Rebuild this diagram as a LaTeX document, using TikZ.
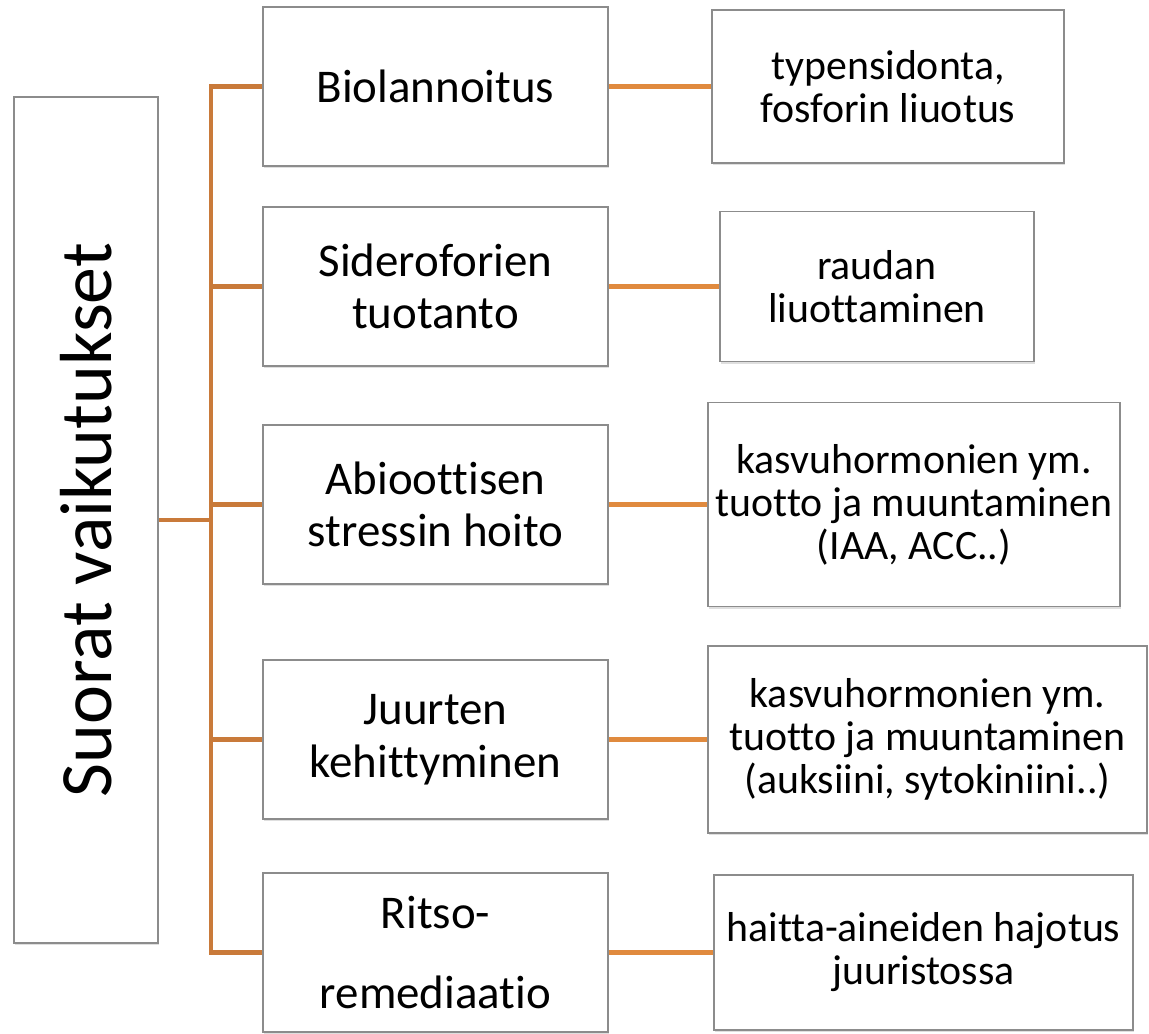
\documentclass[tikz,border=0pt]{standalone}
\usepackage{fontspec}
\setmainfont{Carlito}[Ligatures=NoCommon]
\usetikzlibrary{positioning, shadows}

\definecolor{trunkc}{HTML}{C97A3A}
\definecolor{linkc}{HTML}{E08A3E}
\definecolor{edgec}{HTML}{8C8C8C}

\begin{document}
\begin{tikzpicture}[
	box/.style={rectangle, draw=edgec, line width=0.9pt, fill=white, align=center, inner sep=0pt,
		drop shadow={shadow xshift=0.7pt, shadow yshift=-1.3pt, opacity=0.25}},
	mbox/.style={box, minimum width=6.9cm, minimum height=3.18cm, font=\fontsize{26.7}{30}\selectfont},
	rbox/.style={box, font=\fontsize{23.8}{24.5}\selectfont},
	trunk/.style={draw=trunkc, line width=2.5pt},
	link/.style={draw=linkc, line width=2.6pt}
	]
	\useasboundingbox (0,0) rectangle (22.98,-20.68);

	\node (lb)[box, minimum width=2.88cm, minimum height=16.92cm] at (1.72, -10.4)
		{\rotatebox{90}{\fontsize{42}{46}\selectfont Suorat vaikutukset}};
	\coordinate (tr) at (4.22, 0);

	\node (m1)[mbox] at (8.71, -1.73) {Biolannoitus};
	\node (m2)[mbox] at (8.71, -5.73) {Sideroforien\\tuotanto};
	\node (m3)[mbox] at (8.71, -10.09) {Abioottisen\\stressin hoito};
	\node (m4)[mbox] at (8.71, -14.79) {Juurten\\kehittyminen};
	\node (m5)[mbox] at (8.71, -19.05) {Ritso-\\[15pt]remediaatio};

	\node (r1)[rbox, minimum width=7.04cm, minimum height=3.06cm] at (17.76, -1.73) {typensidonta,\\fosforin liuotus};
	\node (r2)[rbox, minimum width=6.28cm, minimum height=3.0cm] at (17.54, -5.73) {raudan\\liuottaminen};
	\node (r3)[rbox, minimum width=8.24cm, minimum height=4.08cm] at (18.28, -10.09) {kasvuhormonien ym.\\tuotto ja muuntaminen\\(IAA, ACC..)};
	\node (r4)[rbox, minimum width=8.78cm, minimum height=3.74cm] at (18.55, -14.79) {kasvuhormonien ym.\\tuotto ja muuntaminen\\(auksiini, sytokiniini..)};
	\node (r5)[rbox, minimum width=8.38cm, minimum height=3.1cm] at (18.47, -19.05) {haitta-aineiden hajotus\\juuristossa};

	% tree from the left box
	\draw[trunk] (lb.east) -- (lb.east -| tr);
	\draw[trunk] (m1.west) -- (m1.west -| tr) |- (m5.west);
	\draw[trunk] (m2.west -| tr) -- (m2.west);
	\draw[trunk] (m3.west -| tr) -- (m3.west);
	\draw[trunk] (m4.west -| tr) -- (m4.west);

	% links to the right
	\draw[link] (m1) -- (r1);
	\draw[link] (m2) -- (r2);
	\draw[link] (m3) -- (r3);
	\draw[link] (m4) -- (r4);
	\draw[link] (m5) -- (r5);
\end{tikzpicture}
\end{document}
